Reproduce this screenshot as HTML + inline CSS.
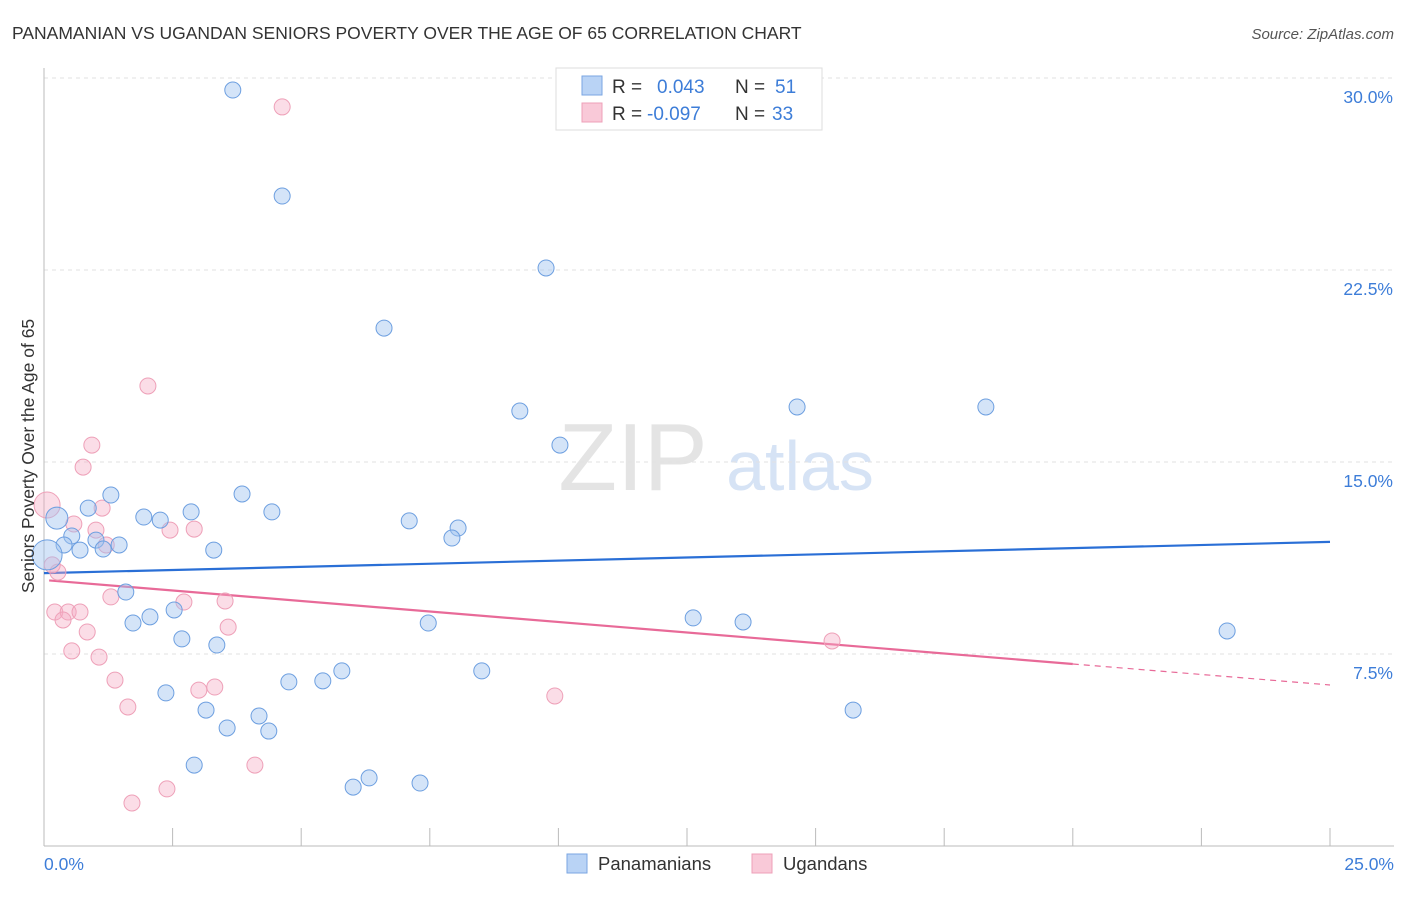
<!DOCTYPE html>
<html><head><meta charset="utf-8"><style>
body{margin:0;background:#fff;font-family:"Liberation Sans",sans-serif;}
svg text{font-family:"Liberation Sans",sans-serif;}
</style></head><body>
<svg id="c" width="1406" height="892" xmlns="http://www.w3.org/2000/svg">
<text x="12" y="39" font-size="17.5" fill="#333">PANAMANIAN VS UGANDAN SENIORS POVERTY OVER THE AGE OF 65 CORRELATION CHART</text>
<text x="1394" y="39" font-size="15" fill="#555" text-anchor="end" font-style="italic">Source: ZipAtlas.com</text>
<text x="633" y="490" font-size="96" fill="#e4e4e4" font-family="Liberation Serif" text-anchor="middle">ZIP</text>
<text x="800" y="490" font-size="70" fill="#d6e3f5" text-anchor="middle">atlas</text>
<g id="grid"></g><g id="axes"></g><g id="trend"></g><g id="pts"></g>
<text transform="translate(34,456) rotate(-90)" font-size="17.5" fill="#333" text-anchor="middle">Seniors Poverty Over the Age of 65</text>
<text x="44" y="870" font-size="17.5" fill="#3d7dd8">0.0%</text>
<text x="1394" y="870" font-size="17.5" fill="#3d7dd8" text-anchor="end">25.0%</text>
<g>
<rect x="556" y="68" width="266" height="62" fill="#fff" stroke="#ddd"/>
<rect x="582" y="76" width="20" height="19" fill="#b9d3f5" stroke="#7aa6e2"/>
<rect x="582" y="103" width="20" height="19" fill="#f9c9d8" stroke="#eea0b8"/>
<text x="612" y="93" font-size="19" fill="#333">R = </text><text x="657" y="93" font-size="19" fill="#3d7dd8">0.043</text>
<text x="735" y="93" font-size="19" fill="#333">N = </text><text x="775" y="93" font-size="19" fill="#3d7dd8">51</text>
<text x="612" y="120" font-size="19" fill="#333">R = </text><text x="647" y="120" font-size="19" fill="#3d7dd8">-0.097</text>
<text x="735" y="120" font-size="19" fill="#333">N = </text><text x="772" y="120" font-size="19" fill="#3d7dd8">33</text>
</g>
<g>
<rect x="567" y="854" width="20" height="19" fill="#b9d3f5" stroke="#7aa6e2"/>
<text x="598" y="870" font-size="18.5" fill="#333">Panamanians</text>
<rect x="752" y="854" width="20" height="19" fill="#f9c9d8" stroke="#eea0b8"/>
<text x="783" y="870" font-size="18.5" fill="#333">Ugandans</text>
</g>
</svg>
<script>
const yTicks=[7.5,15,22.5,30];
const yTickLabels=["7.5%","15.0%","22.5%","30.0%"];
const blueX=[3.67,4.63,9.76,6.61,9.25,14.64,18.31,10.03,1.30,3.85,0.86,1.94,2.26,2.86,4.43,7.10,8.05,7.93,0.25,0.54,0.39,1.01,1.46,1.15,0.70,3.30,0.06,1.59,2.53,2.06,1.73,7.47,12.62,13.59,23.0,2.68,3.36,5.79,8.51,4.76,5.42,2.37,3.15,15.73,4.18,3.56,4.37,2.92,6.32,6.01,7.31];
const blueY=[29.53,25.39,22.58,20.23,16.99,17.15,17.15,15.66,13.71,13.75,13.20,12.85,12.73,13.05,13.05,12.70,12.42,12.03,12.81,12.11,11.76,11.95,11.76,11.60,11.56,11.56,11.37,9.92,9.22,8.95,8.71,8.71,8.91,8.75,8.40,8.09,7.85,6.84,6.84,6.41,6.45,5.98,5.31,5.31,5.08,4.61,4.49,3.16,2.66,2.30,2.46];
const blueR=[8,8,8,8,8,8,8,8,8,8,8,8,8,8,8,8,8,8,11,8,8,8,8,8,8,8,15,8,8,8,8,8,8,8,8,8,8,8,8,8,8,8,8,8,8,8,8,8,8,8,8];
const pinkX=[4.63,2.02,0.93,0.76,0.06,0.58,1.13,1.01,2.92,2.45,1.21,0.27,0.16,1.30,2.72,3.52,0.21,0.47,0.70,0.37,3.58,0.84,15.32,0.54,1.07,1.38,3.01,3.32,9.93,1.63,4.10,2.39,1.71];
const pinkY=[28.87,17.97,15.66,14.80,13.32,12.58,13.20,12.34,12.38,12.34,11.76,10.70,10.98,9.73,9.53,9.57,9.14,9.14,9.14,8.83,8.55,8.36,8.01,7.62,7.38,6.48,6.09,6.21,5.86,5.43,3.16,2.23,1.68];
const pinkR=[8,8,8,8,13,8,8,8,8,8,8,8,8,8,8,8,8,8,8,8,8,8,8,8,8,8,8,8,8,8,8,8,8];
const blueTrend=[10.66,11.88];
const pinkTrend=[10.39,6.29];
const NS="http://www.w3.org/2000/svg";
const X=v=>44+v/25*1286, Y=v=>846-v/7.5*192;
function mk(t,a,p){const e=document.createElementNS(NS,t);for(const k in a)e.setAttribute(k,a[k]);p.appendChild(e);return e;}
const grid=document.getElementById('grid'),axes=document.getElementById('axes');
yTicks.forEach((t,i)=>{
 const l=mk('line',{x1:44,x2:1394,y1:Y(t),y2:Y(t),stroke:'#e2e2e2','stroke-dasharray':'4,4'},grid);
 
 
 const tx=mk('text',{x:1393,y:Y(t)+25,'font-size':17.5,fill:'#3d7dd8','text-anchor':'end'},grid);
 tx.textContent=yTickLabels[i];
 
 
});
const ya=mk('line',{x1:44,x2:44,y1:68,y2:846,stroke:'#bbb'},axes);


const xa=mk('line',{x1:44,x2:1394,y1:846,y2:846,stroke:'#bbb'},axes);


for(let i=0;i<=10;i++){const t=mk('line',{x1:X(i*2.5),x2:X(i*2.5),y1:828,y2:846,stroke:'#bbb'},axes);
 
 }
const tr=document.getElementById('trend');
const bl=mk('line',{x1:X(0),y1:Y(blueTrend[0]),x2:X(25),y2:Y(blueTrend[1]),stroke:'#2a6fd6','stroke-width':2.2},tr);


const pAt=x=>pinkTrend[0]+(pinkTrend[1]-pinkTrend[0])*x/25;
const pl=mk('line',{x1:X(0.1),y1:Y(pAt(0.1)),x2:X(20),y2:Y(pAt(20)),stroke:'#e86a98','stroke-width':2.2},tr);


const pd=mk('line',{x1:X(20),y1:Y(pAt(20)),x2:X(25),y2:Y(pAt(25)),stroke:'#e86a98','stroke-width':1.2,'stroke-dasharray':'6,5'},tr);


const pts=document.getElementById('pts');
pinkX.forEach((v,i)=>{const c=mk('circle',{cx:X(v),cy:Y(pinkY[i]),r:pinkR[i],fill:'rgba(244,170,196,0.4)',stroke:'#eea0b8','stroke-width':1},pts);
 
 });
blueX.forEach((v,i)=>{const c=mk('circle',{cx:X(v),cy:Y(blueY[i]),r:blueR[i],fill:'rgba(160,195,240,0.45)',stroke:'#6d9fe0','stroke-width':1},pts);
 
 });
</script>
</body></html>
